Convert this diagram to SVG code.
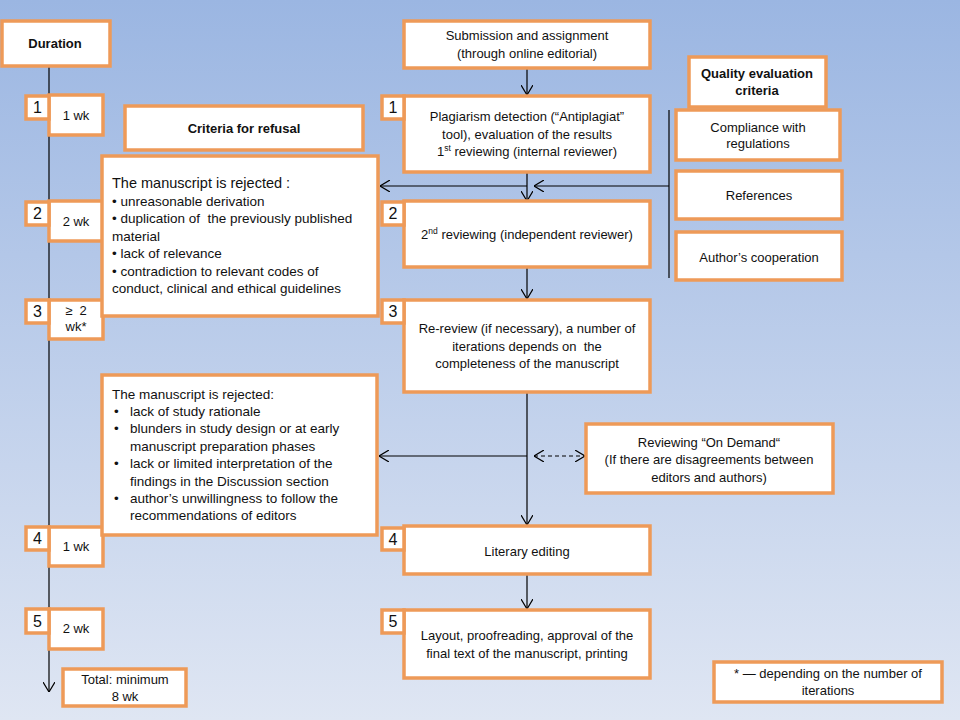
<svg xmlns="http://www.w3.org/2000/svg" width="960" height="720" viewBox="0 0 960 720">
<defs>
<linearGradient id="bg" x1="0" y1="0" x2="0" y2="1">
<stop offset="0" stop-color="#9BB6E2"/>
<stop offset="1" stop-color="#DFE6F3"/>
</linearGradient>
<marker id="arr" viewBox="0 0 10 12" refX="10" refY="6" markerWidth="10" markerHeight="12" markerUnits="userSpaceOnUse" orient="auto-start-reverse">
<path d="M0,0 L10,6 L0,12" fill="none" stroke="#000" stroke-width="1.2"/>
</marker>
<style>
.box{fill:#fff;stroke:#EE9A58;stroke-width:3.5}
text{font-family:"Liberation Sans",Arial,sans-serif;font-size:13px;fill:#111;white-space:pre}
.c{text-anchor:middle}
.b{font-weight:bold}
.n{font-size:16px;text-anchor:middle}
.r{font-size:13.5px}
.ln{stroke:#000;stroke-width:1.2;fill:none}
.sup{font-size:8.5px}
</style>
</defs>
<rect x="0" y="0" width="960" height="720" fill="url(#bg)"/>

<g id="connectors">
<line class="ln" x1="49" y1="66" x2="49" y2="692" marker-end="url(#arr)"/>
<line class="ln" x1="527" y1="68" x2="527" y2="95" marker-end="url(#arr)"/>
<line class="ln" x1="527" y1="172" x2="527" y2="201" marker-end="url(#arr)"/>
<line class="ln" x1="527" y1="186" x2="380" y2="186" marker-end="url(#arr)"/>
<line class="ln" x1="669" y1="110" x2="669" y2="278"/>
<line class="ln" x1="669" y1="186" x2="534" y2="186" marker-end="url(#arr)"/>
<line class="ln" x1="527" y1="267" x2="527" y2="299" marker-end="url(#arr)"/>
<line class="ln" x1="527" y1="392" x2="527" y2="525" marker-end="url(#arr)"/>
<line class="ln" x1="527" y1="456" x2="379" y2="456" marker-end="url(#arr)"/>
<line class="ln" x1="534" y1="456" x2="585" y2="456" stroke-dasharray="4,3" marker-start="url(#arr)" marker-end="url(#arr)"/>
<line class="ln" x1="527" y1="574" x2="527" y2="609" marker-end="url(#arr)"/>
</g>

<g id="duration">
<rect class="box" x="2" y="21" width="108" height="45"/>
<text class="c b" x="55" y="48">Duration</text>
</g>

<g id="step1-left">
<rect class="box" x="49" y="95" width="54" height="40"/>
<text class="c" x="76" y="120">1 wk</text>
<rect class="box" x="26" y="96" width="23" height="23"/>
<text class="n" x="37.5" y="113">1</text>
</g>
<g id="step2-left">
<rect class="box" x="49" y="201" width="54" height="40"/>
<text class="c" x="76" y="226">2 wk</text>
<rect class="box" x="26" y="202" width="23" height="23"/>
<text class="n" x="37.5" y="219">2</text>
</g>
<g id="step3-left">
<rect class="box" x="49" y="300" width="54" height="39"/>
<text class="c" x="76" y="315">≥  2</text>
<text class="c" x="76" y="331">wk*</text>
<rect class="box" x="26" y="300" width="23" height="23"/>
<text class="n" x="37.5" y="317">3</text>
</g>
<g id="step4-left">
<rect class="box" x="49" y="527" width="54" height="39"/>
<text class="c" x="76" y="551">1 wk</text>
<rect class="box" x="26" y="527" width="23" height="23"/>
<text class="n" x="37.5" y="544">4</text>
</g>
<g id="step5-left">
<rect class="box" x="49" y="609" width="54" height="40"/>
<text class="c" x="76" y="633">2 wk</text>
<rect class="box" x="26" y="609" width="23" height="24"/>
<text class="n" x="37.5" y="627">5</text>
</g>
<g id="total">
<rect class="box" x="63" y="669" width="123" height="37"/>
<text class="c" x="125" y="683.5">Total: minimum</text>
<text class="c" x="125" y="701">8 wk</text>
</g>

<g id="criteria-refusal">
<rect class="box" x="125" y="106" width="238" height="44"/>
<text class="c b" x="244" y="132.5">Criteria for refusal</text>
</g>

<g id="rejected1">
<rect class="box" x="102" y="156" width="276" height="160"/>
<text x="112" y="188" style="font-size:14.5px">The manuscript is rejected :</text>
<text class="r" x="112" y="205.5">• unreasonable derivation</text>
<text class="r" x="112" y="223">• duplication of  the previously published</text>
<text class="r" x="112" y="240.5">material</text>
<text class="r" x="112" y="258">• lack of relevance</text>
<text class="r" x="112" y="275.5">• contradiction to relevant codes of</text>
<text class="r" x="112" y="293">conduct, clinical and ethical guidelines</text>
</g>

<g id="rejected2">
<rect class="box" x="102" y="375" width="275" height="160"/>
<text class="r" x="112" y="398.5">The manuscript is rejected:</text>
<text class="r" x="114" y="415.5">•</text><text class="r" x="130" y="415.5">lack of study rationale</text>
<text class="r" x="114" y="433">•</text><text class="r" x="130" y="433">blunders in study design or at early</text>
<text class="r" x="130" y="450.5">manuscript preparation phases</text>
<text class="r" x="114" y="468">•</text><text class="r" x="130" y="468">lack or limited interpretation of the</text>
<text class="r" x="130" y="485.5">findings in the Discussion section</text>
<text class="r" x="114" y="503">•</text><text class="r" x="130" y="503">author’s unwillingness to follow the</text>
<text class="r" x="130" y="520">recommendations of editors</text>
</g>

<g id="submission">
<rect class="box" x="404" y="21" width="246" height="47"/>
<text class="c" x="527" y="39.5">Submission and assignment</text>
<text class="c" x="527" y="57.5">(through online editorial)</text>
</g>

<g id="plagiarism">
<rect class="box" x="404" y="96" width="246" height="76"/>
<text class="c" x="527" y="121">Plagiarism detection (“Antiplagiat”</text>
<text class="c" x="527" y="138.5">tool), evaluation of the results</text>
<text class="c" x="527" y="156">1<tspan class="sup" dy="-5">st</tspan><tspan dy="5"> reviewing (internal reviewer)</tspan></text>
<rect class="box" x="382" y="96" width="22" height="23"/>
<text class="n" x="393" y="113">1</text>
</g>

<g id="quality-criteria">
<rect class="box" x="689" y="57" width="137" height="50"/>
<text class="c b" x="757" y="78">Quality evaluation</text>
<text class="c b" x="757" y="95">criteria</text>
</g>
<g id="compliance">
<rect class="box" x="676" y="110" width="164" height="50"/>
<text class="c" x="758" y="131.5">Compliance with</text>
<text class="c" x="758" y="148">regulations</text>
</g>
<g id="references">
<rect class="box" x="676" y="171" width="166" height="48"/>
<text class="c" x="759" y="199.5">References</text>
</g>
<g id="cooperation">
<rect class="box" x="676" y="232" width="166" height="48"/>
<text class="c" x="759" y="261.5">Author’s cooperation</text>
</g>

<g id="second-review">
<rect class="box" x="404" y="201" width="246" height="66"/>
<text class="c" x="527" y="238.5">2<tspan class="sup" dy="-5">nd</tspan><tspan dy="5"> reviewing (independent reviewer)</tspan></text>
<rect class="box" x="382" y="202" width="22" height="23"/>
<text class="n" x="393" y="219">2</text>
</g>

<g id="re-review">
<rect class="box" x="404" y="300" width="246" height="92"/>
<text class="c" x="527" y="332.5">Re-review (if necessary), a number of</text>
<text class="c" x="527" y="350.5">iterations depends on  the</text>
<text class="c" x="527" y="367.5">completeness of the manuscript</text>
<rect class="box" x="382" y="300" width="22" height="23"/>
<text class="n" x="393" y="317">3</text>
</g>

<g id="on-demand">
<rect class="box" x="586" y="424" width="247" height="69"/>
<text class="c" x="709" y="446.5">Reviewing “On Demand“</text>
<text class="c" x="709" y="463.5">(If there are disagreements between</text>
<text class="c" x="709" y="481.5">editors and authors)</text>
</g>

<g id="literary">
<rect class="box" x="404" y="526" width="246" height="48"/>
<text class="c" x="527" y="555.5">Literary editing</text>
<rect class="box" x="382" y="528" width="22" height="22"/>
<text class="n" x="393" y="545">4</text>
</g>

<g id="layout">
<rect class="box" x="404" y="610" width="246" height="68"/>
<text class="c" x="527" y="639.5">Layout, proofreading, approval of the</text>
<text class="c" x="527" y="657.5">final text of the manuscript, printing</text>
<rect class="box" x="382" y="610" width="22" height="23"/>
<text class="n" x="393" y="627">5</text>
</g>

<g id="footnote">
<rect class="box" x="714" y="662" width="228" height="40"/>
<text class="c" x="828" y="677.5">* — depending on the number of</text>
<text class="c" x="828" y="694.5">iterations</text>
</g>
</svg>
